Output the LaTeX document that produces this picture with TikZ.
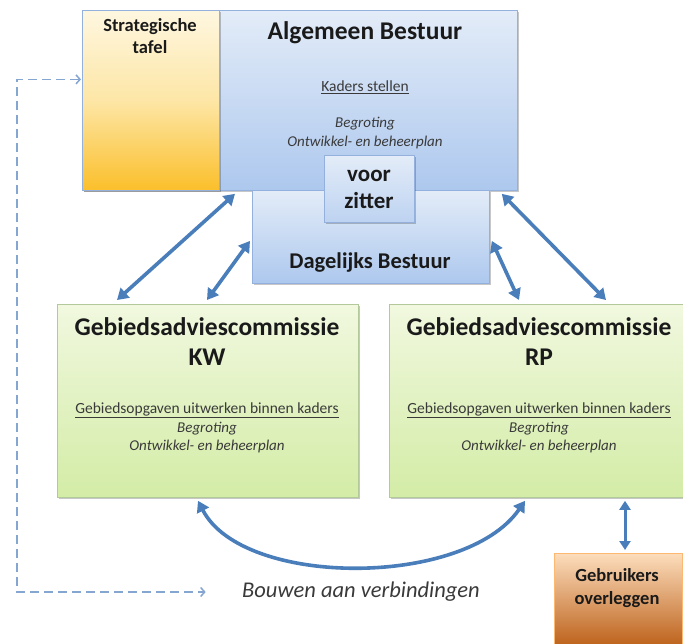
\documentclass[tikz,border=0pt]{standalone}
\usepackage{fontspec}
\setmainfont{Carlito}
\usetikzlibrary{arrows.meta,shadows}
\definecolor{arrowblue}{HTML}{4A7EBB}
\definecolor{dashblue}{HTML}{86A6D2}
\definecolor{blueedge}{HTML}{93B1DC}
\definecolor{bluetop}{HTML}{E3ECF8}
\definecolor{bluebot}{HTML}{ADC8EE}
\definecolor{greenedge}{HTML}{B4C99A}
\definecolor{greentop}{HTML}{F1F8DF}
\definecolor{greenbot}{HTML}{D3ECA6}
\definecolor{yeltop}{HTML}{FEF7E0}
\definecolor{yelmid}{HTML}{FDE6A6}
\definecolor{yelbot}{HTML}{FBBF2A}
\definecolor{orgtop}{HTML}{FCDDBC}
\definecolor{orgmid}{HTML}{F2A462}
\definecolor{orgbot}{HTML}{B8580E}
\definecolor{txt}{HTML}{1A1A1A}
\definecolor{smalltxt}{HTML}{3A3A3A}
\begin{document}
\begin{tikzpicture}[x=1pt,y=-1pt,
  box/.style={draw=#1, line width=0.8pt, anchor=north west, inner sep=0pt,
    drop shadow={shadow xshift=1.5pt,shadow yshift=-2pt,opacity=0.22,fill=black}},
  bluebox/.style={box=blueedge, top color=bluetop, bottom color=bluebot},
  greenbox/.style={box=greenedge, top color=greentop, bottom color=greenbot},
  titlefont/.style={text=txt, font=\fontsize{25.5}{30}\selectfont\bfseries, align=center},
  midfont/.style={text=txt, font=\fontsize{22.5}{27}\selectfont\bfseries, align=center},
  smallbold/.style={text=txt, font=\fontsize{18.5}{22.5}\selectfont\bfseries, align=center},
  smallfont/.style={text=smalltxt, font=\fontsize{15.5}{18.5}\selectfont, align=center},
  smallital/.style={text=smalltxt, font=\fontsize{15}{18.5}\selectfont\itshape, align=center},
  dblarrow/.style={draw=arrowblue, line width=3.6pt,
    {Triangle[length=11pt,width=13pt]}-{Triangle[length=11pt,width=13pt]}},
  dasharrow/.style={draw=dashblue, line width=1.5pt, dash pattern=on 9pt off 5pt,
    {Straight Barb[length=4pt,width=9pt]}-{Straight Barb[length=4pt,width=9pt]}}
]
\useasboundingbox (0,0) rectangle (683,643);
\fill[white] (0,0) rectangle (683,643);

% Algemeen Bestuur
\node[bluebox, minimum width=435pt, minimum height=180pt] (ab) at (82,10) {};
% Strategische tafel
\node[box=blueedge, top color=yeltop, bottom color=yelbot, middle color=yelmid,
  minimum width=137pt, minimum height=180pt] (st) at (82,10) {};
% Dagelijks Bestuur
\node[bluebox, minimum width=237pt, minimum height=93pt] (db) at (252,190) {};
% voorzitter
\node[box=blueedge, top color=bluetop, bottom color=bluebot!70!bluetop,
  minimum width=90pt, minimum height=67pt] (vz) at (324,155) {};
% Gebiedsadviescommissies
\node[greenbox, minimum width=301pt, minimum height=193pt] (kw) at (57,304) {};
\node[greenbox, minimum width=300pt, minimum height=193pt] (rp) at (389,304) {};
% Gebruikers overleggen
\node[box=orgtop!60!orange, top color=orgtop, middle color=orgmid, bottom color=orgbot,
  minimum width=128pt, minimum height=100pt] (geb) at (554,553) {};

% texts
\node[smallbold] (stt) at (150,36) {Strategische\\tafel};
\node[titlefont] (abt) at (365,33) {Algemeen Bestuur};
\node[smallfont] (abk) at (365,87) {\underline{Kaders stellen}};
\node[smallital] (abb) at (365,133) {Begroting\\Ontwikkel- en beheerplan};
\node[text=txt, font=\fontsize{23}{27}\selectfont\bfseries, align=center] (vzt) at (369,189) {voor\\zitter};
\node[midfont] (dbt) at (370,263) {Dagelijks Bestuur};

\node[titlefont] (kwt) at (207,342) {Gebiedsadviescommissie\\KW};
\node[smallfont] (kwk) at (207,410) {\underline{Gebiedsopgaven uitwerken binnen kaders}};
\node[smallital] (kwb) at (207,437.5) {Begroting\\Ontwikkel- en beheerplan};

\node[titlefont] (rpt) at (539,342) {Gebiedsadviescommissie\\RP};
\node[smallfont] (rpk) at (539,410) {\underline{Gebiedsopgaven uitwerken binnen kaders}};
\node[smallital] (rpb) at (539,437.5) {Begroting\\Ontwikkel- en beheerplan};

\node[smallbold] (gebt) at (617,588) {Gebruikers\\overleggen};
\node[text=smalltxt, font=\fontsize{22.5}{27}\selectfont\itshape] (bouwen) at (361,592) {Bouwen aan verbindingen};

% connectors
\draw[dblarrow] ([xshift=153pt,yshift=-3pt]ab.south west) -- ([xshift=60pt,yshift=4pt]kw.north west);
\draw[dblarrow] ([xshift=-2pt,yshift=-4pt]db.west) -- ([xshift=150pt,yshift=4pt]kw.north west);
\draw[dblarrow] ([xshift=2pt,yshift=-4pt]db.east) -- ([xshift=130pt,yshift=4pt]rp.north west);
\draw[dblarrow] ([xshift=-16pt,yshift=-3pt]ab.south east) -- ([xshift=217pt,yshift=4pt]rp.north west);
\draw[dblarrow] ([xshift=141pt,yshift=-3pt]kw.south west) .. controls +(45,87) and +(-60,87) .. ([xshift=136pt,yshift=-3pt]rp.south west);
\draw[draw=arrowblue, line width=3pt, {Triangle[length=9pt,width=11pt]}-{Triangle[length=9pt,width=11pt]}]
  ([xshift=236pt,yshift=-3pt]rp.south west) -- ([xshift=71pt,yshift=3pt]geb.north west);
\draw[dasharrow] ([xshift=-1pt,yshift=21pt]st.west) -- ++(-64,0) |- ([xshift=-33pt]bouwen.west);
\end{tikzpicture}
\end{document}
